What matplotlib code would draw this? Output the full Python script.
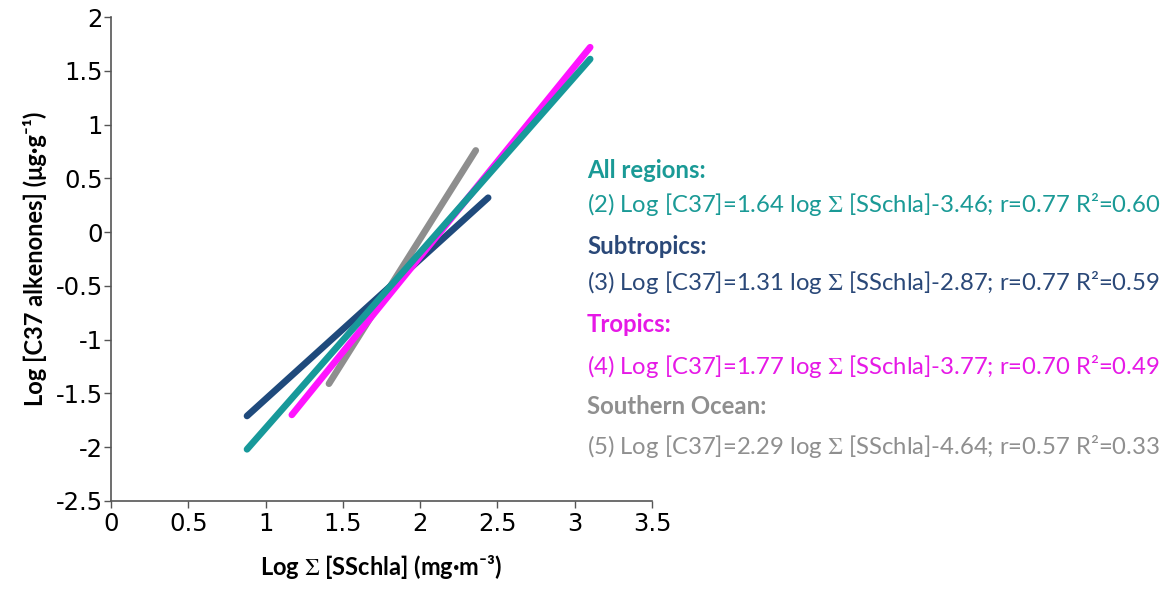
import matplotlib
matplotlib.use("Agg")
import matplotlib.pyplot as plt

# regression lines (start / end points)
regions = ["All regions:", "Subtropics:", "Tropics:", "Southern Ocean:"]
equations = [
    "(2) Log [C37]=1.64 log $\\Sigma$ [SSchla]-3.46; r=0.77 R²=0.60",
    "(3) Log [C37]=1.31 log $\\Sigma$ [SSchla]-2.87; r=0.77 R²=0.59",
    "(4) Log [C37]=1.77 log $\\Sigma$ [SSchla]-3.77; r=0.70 R²=0.49",
    "(5) Log [C37]=2.29 log $\\Sigma$ [SSchla]-4.64; r=0.57 R²=0.33",
]
x_start = [0.88, 0.88, 1.17, 1.41]
x_end = [3.10, 2.44, 3.10, 2.36]
y_start = [-2.02, -1.71, -1.70, -1.41]
y_end = [1.61, 0.32, 1.72, 0.76]
line_colors = ["#17999A", "#1F4A7C", "#FF14FF", "#8E8E8E"]
text_colors = ["#1A9A96", "#2A4878", "#E619E6", "#8F8F8F"]
zorders = [5, 3, 4, 2]

xticks = [0, 0.5, 1, 1.5, 2, 2.5, 3, 3.5]
yticks = [-2.5, -2, -1.5, -1, -0.5, 0, 0.5, 1, 1.5, 2]

plt.rcParams['mathtext.fontset'] = 'stix'
txt_font = ['Lato', 'DejaVu Sans']

fig = plt.figure(figsize=(11.67, 5.9), dpi=100)
ax = fig.add_axes([0.0951, 0.151, 0.4636, 0.82])

for i in range(len(regions)):
    ax.plot([x_start[i], x_end[i]], [y_start[i], y_end[i]], color=line_colors[i],
            lw=4.8, solid_capstyle='round', zorder=zorders[i])

ax.set_xlim(0, 3.5)
ax.set_ylim(-2.5, 2)
ax.set_xticks(xticks)
ax.set_yticks(yticks)
ax.set_xticklabels([f"{t:g}" for t in xticks])
ax.set_yticklabels([f"{t:g}" for t in yticks])
ax.tick_params(axis='both', labelsize=17.5, length=5, width=1, color='#555555', pad=1)
ax.tick_params(axis='x', pad=3)
for s in ['top', 'right']:
    ax.spines[s].set_visible(False)
for s in ['left', 'bottom']:
    ax.spines[s].set_color('#555555')
    ax.spines[s].set_linewidth(1.2)

ax.set_xlabel("Log $\\Sigma$ [SSchla] (mg·m⁻³)", fontsize=17, fontweight='bold',
              family=txt_font, labelpad=12)
ax.set_ylabel("Log [C37 alkenones] (μg·g⁻¹)", fontsize=17, fontweight='bold',
              family=txt_font, labelpad=6)

title_y = [170, 246, 325, 407]
eq_y = [204, 282, 366, 447]
for i in range(len(regions)):
    fig.text(587 / 1167, 1 - title_y[i] / 590, regions[i], color=text_colors[i],
             fontsize=17.2, fontweight='bold', family=txt_font, va='center', ha='left')
    fig.text(587 / 1167, 1 - eq_y[i] / 590, equations[i], color=text_colors[i],
             fontsize=17.2, family=txt_font, va='center', ha='left')

fig.savefig("out.png", dpi=100)
